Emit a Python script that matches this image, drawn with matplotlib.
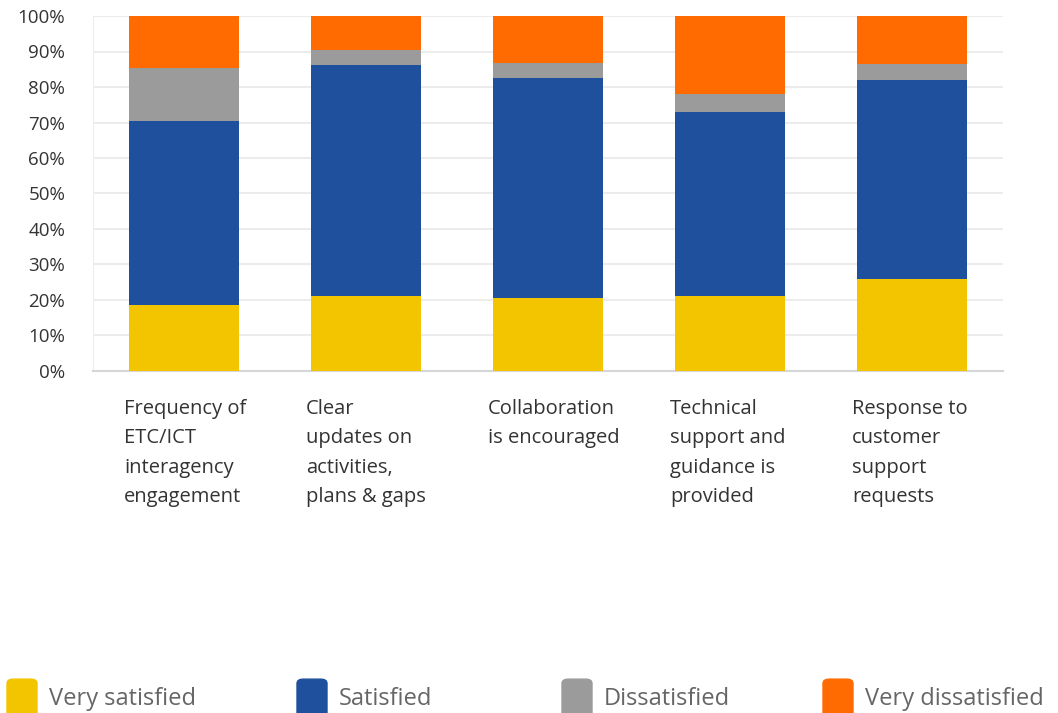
import numpy as np
import matplotlib.pyplot as plt
from matplotlib.patches import FancyBboxPatch
from matplotlib.transforms import blended_transform_factory

categories = [
    "Frequency of\nETC/ICT\ninteragency\nengagement",
    "Clear\nupdates on\nactivities,\nplans & gaps",
    "Collaboration\nis encouraged",
    "Technical\nsupport and\nguidance is\nprovided",
    "Response to\ncustomer\nsupport\nrequests",
]
series_names = ["Very satisfied", "Satisfied", "Dissatisfied", "Very dissatisfied"]
very_satisfied = [18.5, 21.1, 20.5, 21.1, 25.8]
satisfied = [52.0, 65.1, 61.9, 51.9, 56.2]
dissatisfied = [14.8, 4.2, 4.5, 4.9, 4.5]
very_dissatisfied = [14.7, 9.6, 13.1, 22.1, 13.5]
colors = ["#F2C500", "#1F509D", "#9B9B9B", "#FF6B00"]

plt.rcParams['font.family'] = ['Open Sans', 'DejaVu Sans']

fig = plt.figure(figsize=(10.58, 7.13), dpi=100)
ax = fig.add_axes([93 / 1058, 1 - 371 / 713, 910 / 1058, 355 / 713])

x = np.arange(len(categories))
bottom = np.zeros(len(categories))
for vals, c in zip([very_satisfied, satisfied, dissatisfied, very_dissatisfied], colors):
    ax.bar(x, vals, width=0.6, bottom=bottom, color=c, zorder=3)
    bottom += np.array(vals)

ax.set_xlim(-0.5, len(categories) - 0.5)
ax.set_ylim(0, 100)
ax.set_yticks(range(0, 101, 10))
ax.set_yticklabels([f"{v}%" for v in range(0, 101, 10)], color="#333333", fontsize=13.5)
ax.tick_params(axis='y', length=0, pad=20)
ax.set_xticks([])
ax.grid(axis='y', color="#ECECEC", linewidth=1.5, zorder=0)
for s in ["top", "right"]:
    ax.spines[s].set_visible(False)
ax.spines["left"].set_color("#EEEEEE")
ax.spines["bottom"].set_color("#D6D6D6")
ax.spines["bottom"].set_linewidth(1.5)

# category labels, left aligned under each bar
trans = blended_transform_factory(ax.transData, fig.transFigure)
for i, lab in enumerate(categories):
    ax.text(i - 0.33, 1 - 399 / 713, lab, transform=trans, ha='left', va='top',
            fontsize=14.5, color="#333333", linespacing=1.62)

# legend along the bottom edge
legend_x = [7, 297, 562, 823]
for lx, name, c in zip(legend_x, series_names, colors):
    fig.patches.append(FancyBboxPatch((lx / 1058, 1 - 713 / 713 - 0.01), 30 / 1058, 41 / 713,
                                      boxstyle="round,pad=0,rounding_size=0.006",
                                      transform=fig.transFigure, color=c, clip_on=False))
    fig.text((lx + 42) / 1058, 1 - 699 / 713, name, ha='left', va='center',
             fontsize=17, color="#666666")

fig.savefig("out.png", dpi=100)
